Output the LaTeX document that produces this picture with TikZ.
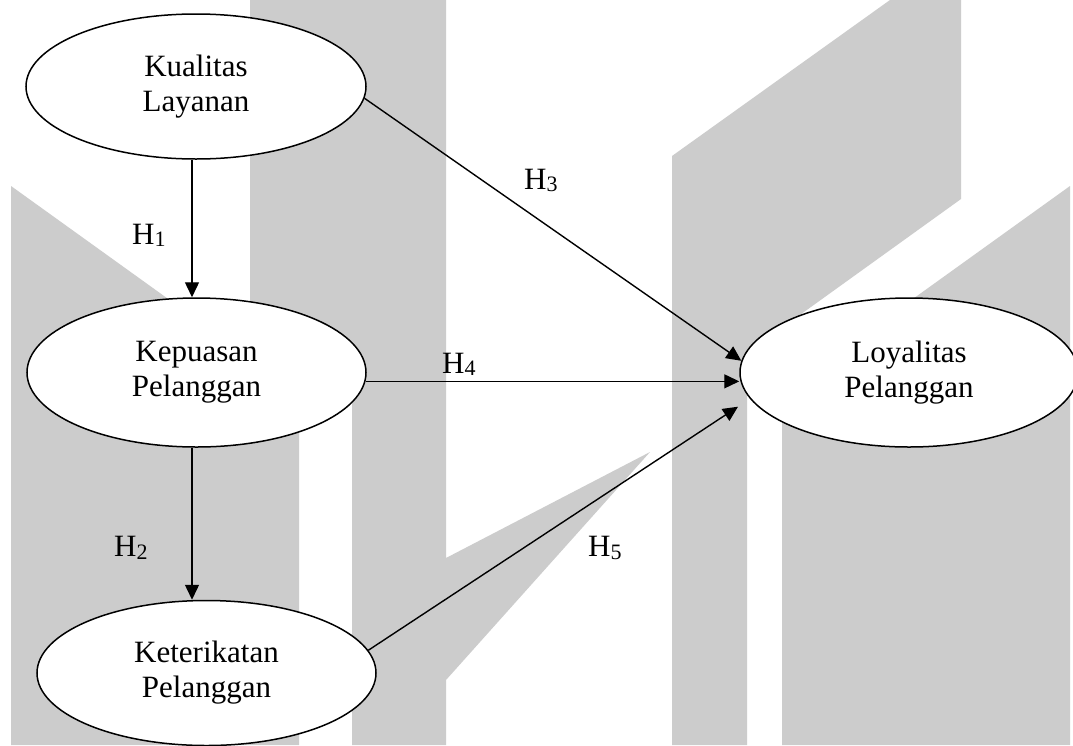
\documentclass[tikz,border=0pt]{standalone}
\usepackage{fontspec}
\setmainfont{Liberation Serif}
\usetikzlibrary{shapes.geometric,arrows.meta}
\definecolor{wmgray}{RGB}{204,204,204}
\newcommand\hsub[1]{\raisebox{-2.5pt}{\fontsize{22}{22}\selectfont #1}}
\tikzset{
  construct/.style={ellipse, draw=black, line width=1.5pt, fill=white,
    inner sep=0pt, align=center, font=\fontsize{31}{35}\selectfont},
  path arrow/.style={draw=black, line width=1.4pt,
    -{Triangle[length=15pt,width=14pt]}},
  hyp/.style={anchor=base west, inner sep=0pt, font=\fontsize{31}{35}\selectfont},
  watermark/.style={fill=wmgray, draw=none}
}
\begin{document}
\begin{tikzpicture}[x=1pt,y=-1pt]
  \useasboundingbox (0,0) rectangle (1073,745);
  \fill[white] (0,0) rectangle (1073,745);

  % background logo shapes
  \fill[watermark] (11,186) -- (299,393) -- (299,745) -- (11,745) -- cycle;
  \fill[watermark] (250,0) -- (352,0) -- (352,385) -- (250,385) -- cycle;
  \fill[watermark] (352,0) -- (446,0) -- (446,558) -- (650,452)
                   -- (446,680) -- (446,745) -- (352,745) -- cycle;
  \fill[watermark] (672,156) -- (890,0) -- (961,0) -- (961,199)
                   -- (747,353) -- (747,745) -- (672,745) -- cycle;
  \fill[watermark] (1070,186) -- (782,393) -- (782,745) -- (1070,745) -- cycle;

  % constructs
  \node[construct, minimum width=340pt, minimum height=145pt] (kual) at (196,86.5) {Kualitas\\Layanan};
  \node[construct, minimum width=339pt, minimum height=149pt] (kep) at (196.5,372.5) {Kepuasan\\Pelanggan};
  \node[construct, minimum width=339pt, minimum height=145pt] (ket) at (206.5,673) {Keterikatan\\Pelanggan};
  \node[construct, minimum width=338pt, minimum height=149pt] (loy) at (909,372.5) {Loyalitas\\Pelanggan};

  \coordinate (h5end) at (738,406.7);

  % hypothesised paths
  \draw[path arrow] ([xshift=-4pt]kual.south) -- ([xshift=-4pt]kual.south |- kep.north);
  \draw[path arrow] ([xshift=-4.5pt]kep.south) -- ([xshift=-4.5pt]kep.south |- ket.north);
  \draw[path arrow] (kual.-4) -- (loy.176);
  \draw[path arrow] (kep.-3) -- (kep.-3 -| loy.west);
  \draw[path arrow] (ket.8) -- (h5end);

  % labels
  \node[hyp] (h1) at (132,244) {H\hsub{1}};
  \node[hyp] (h2) at (114,556.7) {H\hsub{2}};
  \node[hyp] (h3) at (524,189) {H\hsub{3}};
  \node[hyp] (h4) at (442,373) {H\hsub{4}};
  \node[hyp] (h5) at (588,556.7) {H\hsub{5}};
\end{tikzpicture}
\end{document}
